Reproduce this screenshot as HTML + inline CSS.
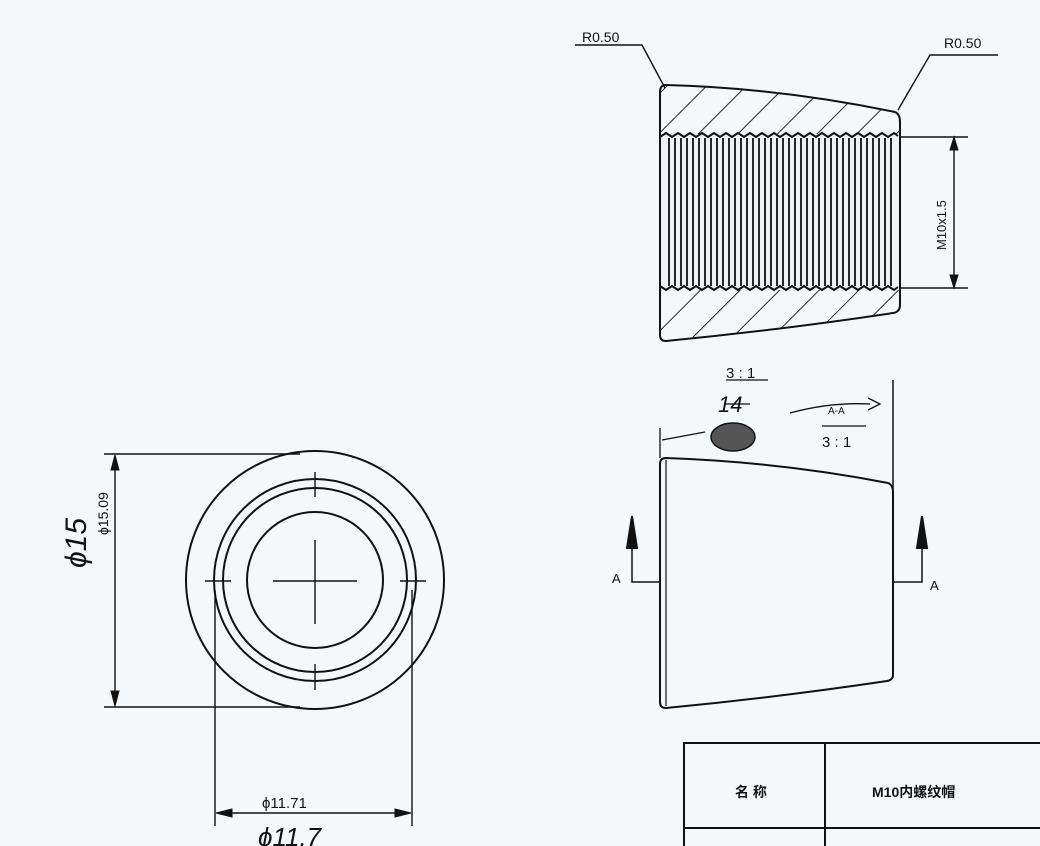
<!DOCTYPE html>
<html><head><meta charset="utf-8"><style>
html,body{margin:0;padding:0;background:#f5f8fb;}
svg{display:block}
text{font-family:"Liberation Sans","Noto Sans CJK SC",sans-serif;fill:#111}
</style></head><body>
<svg width="1040" height="846" viewBox="0 0 1040 846" xmlns="http://www.w3.org/2000/svg">
<defs>
<pattern id="hatch" width="28" height="28" patternUnits="userSpaceOnUse" patternTransform="rotate(45)">
<line x1="0" y1="0" x2="0" y2="28" stroke="#111" stroke-width="1.8"/>
</pattern>
<clipPath id="body"><path d="M666,85 Q780,88 895,112 Q900,114 900,122 L900,305 Q900,312 893,313 Q780,330 666,341 Q660,341 660,335 L660,92 Q660,85 666,85Z"/></clipPath>
</defs>
<rect width="1040" height="846" fill="#f5f8fb"/>
<g stroke="#111" fill="none" stroke-width="2">
<g clip-path="url(#body)">
<rect x="650" y="80" width="260" height="270" fill="url(#hatch)" stroke="none"/>
<rect x="660" y="134" width="240" height="156" fill="#eef2f5" stroke="none"/>
</g>
<path d="M666,85 Q780,88 895,112 Q900,114 900,122 L900,305 Q900,312 893,313 Q780,330 666,341 Q660,341 660,335 L660,92 Q660,85 666,85Z"/>
<path d="M660,137 l6,-4 l6,4 l6,-4 l6,4 l6,-4 l6,4 l6,-4 l6,4 l6,-4 l6,4 l6,-4 l6,4 l6,-4 l6,4 l6,-4 l6,4 l6,-4 l6,4 l6,-4 l6,4 l6,-4 l6,4 l6,-4 l6,4 l6,-4 l6,4 l6,-4 l6,4 l6,-4 l6,4 l6,-4 l6,4 l6,-4 l6,4 l6,-4 l6,4 l6,-4 l6,4 l6,-4 l4,3"/>
<path d="M660,286 l6,4 l6,-4 l6,4 l6,-4 l6,4 l6,-4 l6,4 l6,-4 l6,4 l6,-4 l6,4 l6,-4 l6,4 l6,-4 l6,4 l6,-4 l6,4 l6,-4 l6,4 l6,-4 l6,4 l6,-4 l6,4 l6,-4 l6,4 l6,-4 l6,4 l6,-4 l6,4 l6,-4 l6,4 l6,-4 l6,4 l6,-4 l6,4 l6,-4 l6,4 l6,-4 l6,4 l4,-3"/>
<g stroke-width="1.8">
<path d="M669,138V286M675,138V286M681,138V286M687,138V286M693,138V286M699,138V286M705,138V286M711,138V286M717,138V286M723,138V286M729,138V286M735,138V286M741,138V286M747,138V286M753,138V286M759,138V286M765,138V286M771,138V286M777,138V286M783,138V286M789,138V286M795,138V286M801,138V286M807,138V286M813,138V286M819,138V286M825,138V286M831,138V286M837,138V286M843,138V286M849,138V286M855,138V286M861,138V286M867,138V286M873,138V286M879,138V286M885,138V286M891,138V286"/>
</g>
<path d="M575,45 H642 L665,88" stroke-width="1.4"/>
<path d="M998,55 H930 L898,110" stroke-width="1.4"/>
<path d="M900,137 H968 M900,288 H968 M954,140 V285" stroke-width="1.4"/>
<path d="M950,150 L954,137 L958,150Z M950,275 L954,288 L958,275Z" fill="#111" stroke-width="1"/>
<path d="M666,458 Q780,462 888,483 Q893,485 893,492 L893,675 Q893,680 887,681 Q780,697 666,708 Q660,708 660,702 L660,464 Q660,458 666,458Z"/>
<path d="M666,460 V706" stroke-width="1.2"/>
<path d="M632,548 V582 H660 M922,548 V582 H893" stroke-width="1.5"/>
<path d="M627,548 L632,516 L637,548Z M917,548 L922,516 L927,548Z" fill="#111"/>
<path d="M893,380 V500" stroke-width="1.5"/>
<path d="M726,380 H768 M822,426 H866 M725,404 H750" stroke-width="1.3"/>
<path d="M660,428 V458 M662,440 L705,432 M790,413 Q830,402 870,404 M868,398 L880,404 L868,410" stroke-width="1.3"/>
<ellipse cx="733" cy="437" rx="22" ry="14" fill="#555" stroke="#111" stroke-width="1.5"/>
<circle cx="315" cy="580" r="129"/>
<circle cx="315" cy="580" r="101"/>
<circle cx="315" cy="580" r="92"/>
<circle cx="315" cy="580" r="68"/>
<path d="M273,581 H357 M315,540 V624 M205,581 H231 M400,581 H426 M315,472 V497 M315,664 V690" stroke-width="1.4"/>
<path d="M104,454 H300 M104,707 H300 M115,460 V702" stroke-width="1.4"/>
<path d="M111,470 L115,455 L119,470Z M111,691 L115,706 L119,691Z" fill="#111" stroke-width="1"/>
<path d="M215,590 V826 M412,590 V826 M218,813 H409" stroke-width="1.4"/>
<path d="M232,809 L216,813 L232,817Z M395,809 L411,813 L395,817Z" fill="#111" stroke-width="1"/>
<path d="M684,846 V743 H1040 M825,743 V846 M684,828 H1040" stroke-width="2"/>
</g>
<text x="582" y="42" font-size="14">R0.50</text>
<text x="944" y="48" font-size="14">R0.50</text>
<text transform="translate(946,250) rotate(-90)" font-size="13">M10x1.5</text>
<text x="726" y="378" font-size="15">3 : 1</text>
<text x="822" y="447" font-size="15">3 : 1</text>
<text x="828" y="414" font-size="10">A-A</text>
<text x="718" y="412" font-size="22" font-style="italic" fill="#333">14</text>
<text x="612" y="583" font-size="13">A</text>
<text x="930" y="590" font-size="13">A</text>
<text transform="translate(108,535) rotate(-90)" font-size="14">ϕ15.09</text>
<text transform="translate(86,568) rotate(-90)" font-size="30" font-style="italic" fill="#222">ϕ15</text>
<text x="262" y="808" font-size="15">ϕ11.71</text>
<text x="258" y="846" font-size="26" font-style="italic" fill="#222">ϕ11.7</text>
<text x="735" y="797" font-size="14" font-weight="bold">名 称</text>
<text x="872" y="797" font-size="14" font-weight="bold">M10内螺纹帽</text>
</svg>
</body></html>
